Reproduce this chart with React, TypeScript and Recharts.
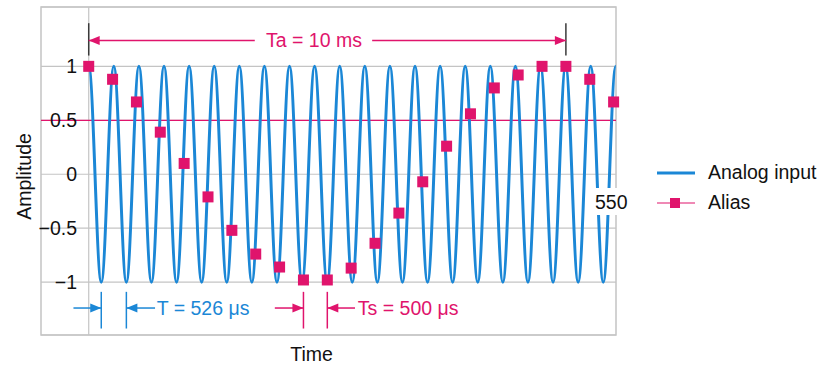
import React from 'react';
import { LineChart, Line, XAxis, YAxis, CartesianGrid, ReferenceLine, ReferenceArea } from 'recharts';

const BLUE = '#1B87D6';
const MAGENTA = '#E0146C';
const GRID = '#C4C4C4';
const DARK = '#3A3A3A';
const FONT = '"Liberation Sans", Arial, Helvetica, sans-serif';
const FS = 19.5;

// Analog input: peaks and troughs (time in ms)
const analogTimes = [
  0, 0.263, 0.526, 0.789, 1.052, 1.315, 1.578, 1.841, 2.104, 2.367, 2.63,
  2.893, 3.156, 3.419, 3.682, 3.945, 4.208, 4.471, 4.734, 4.997, 5.26,
  5.523, 5.786, 6.049, 6.312, 6.575, 6.838, 7.101, 7.364, 7.627, 7.89,
  8.153, 8.416, 8.679, 8.942, 9.205, 9.468, 9.731, 9.994, 10.257, 10.52,
  10.783, 11.046,
];
const analogValues = [
  1, -1, 1, -1, 1, -1, 1, -1, 1, -1, 1,
  -1, 1, -1, 1, -1, 1, -1, 1, -1, 1,
  -1, 1, -1, 1, -1, 1, -1, 1, -1, 1,
  -1, 1, -1, 1, -1, 1, -1, 1, -1, 1,
  -1, 1,
];

// Alias samples (every 500 µs)
const aliasTimes = [
  0, 0.5, 1, 1.5, 2, 2.5, 3, 3.5, 4, 4.5, 5, 5.5, 6, 6.5, 7, 7.5, 8, 8.5, 9, 9.5, 10, 10.5, 11,
];
const aliasValues = [
  1.0, 0.88, 0.67, 0.39, 0.1, -0.21, -0.52, -0.74, -0.86, -0.98, -0.98, -0.87,
  -0.64, -0.36, -0.07, 0.26, 0.56, 0.8, 0.92, 1.0, 1.0, 0.88, 0.67,
];

const yTicks = [-1, -0.5, 0, 0.5, 1];
const X_DOMAIN: [number, number] = [-1, 11.05];
const Y_DOMAIN: [number, number] = [-1.49, 1.55];

const analogData = analogTimes.map((t, i) => ({ t, v: analogValues[i] }));
const aliasData = aliasTimes.map((t, i) => ({ t, v: aliasValues[i] }));

// Curve through extrema with horizontal tangents (sinusoid-like shape)
const K = 1 - 2 / Math.PI;
function sinusoidCurve(context: any) {
  let px = 0;
  let py = 0;
  let n = 0;
  return {
    areaStart() {},
    areaEnd() {},
    lineStart() {
      n = 0;
    },
    lineEnd() {},
    point(x: number, y: number) {
      x = +x;
      y = +y;
      if (n === 0) context.moveTo(x, y);
      else {
        const d = (x - px) * K;
        context.bezierCurveTo(px + d, py, x - d, y, x, y);
      }
      px = x;
      py = y;
      n++;
    },
  };
}

type ArrowOpts = { color: string; start?: boolean; end?: boolean; width?: number };
const arrowShape = ({ color, start, end, width = 1.5 }: ArrowOpts) => (p: any) => {
  const { x1, y1, x2, y2 } = p;
  const L = 11;
  const W = 4.5;
  const dx = x2 - x1;
  const dy = y2 - y1;
  const len = Math.hypot(dx, dy) || 1;
  const ux = dx / len;
  const uy = dy / len;
  const head = (tx: number, ty: number, ax: number, ay: number) =>
    `M${tx},${ty} L${tx - ax * L - ay * W},${ty - ay * L + ax * W} L${tx - ax * L + ay * W},${ty - ay * L - ax * W} Z`;
  return (
    <g>
      <line x1={x1} y1={y1} x2={x2} y2={y2} stroke={color} strokeWidth={width} />
      {end ? <path d={head(x2, y2, ux, uy)} fill={color} /> : null}
      {start ? <path d={head(x1, y1, -ux, -uy)} fill={color} /> : null}
    </g>
  );
};

const textShape = (label: string, color: string, anchor: 'start' | 'middle' | 'end') => (p: any) => (
  <text x={p.x1} y={p.y1} dy="0.36em" textAnchor={anchor} fill={color} fontSize={FS} fontFamily={FONT}>
    {label}
  </text>
);

const fmt = (v: number) => (v < 0 ? '\u2212' + Math.abs(v) : String(v));

const YTick = (props: any) => {
  const { y, payload } = props;
  return (
    <text x={77} y={y} dy="0.36em" textAnchor="end" fill="#111" fontSize={FS} fontFamily={FONT}>
      {fmt(payload.value)}
    </text>
  );
};

const Square = (props: any) => {
  const { cx, cy, index } = props;
  if (cx == null || cy == null) return <g key={index} />;
  return <rect key={index} x={cx - 5.5} y={cy - 5.5} width={11} height={11} fill={MAGENTA} />;
};

export default function App() {
  const TA_Y = 1.24;
  const TB_Y = -1.24;
  return (
    <div style={{ position: 'absolute', left: 0, top: 0, width: 824, height: 365, background: '#fff', fontFamily: FONT }}>
      <LineChart width={824} height={365} margin={{ top: 7, right: 208, bottom: 30, left: 41 }} style={{ position: 'absolute', left: 0, top: 0 }}>
        <XAxis type="number" dataKey="t" domain={X_DOMAIN} hide />
        <YAxis
          type="number"
          domain={Y_DOMAIN}
          ticks={yTicks}
          mirror
          axisLine={false}
          tickLine={false}
          tick={<YTick />}
        />
        <CartesianGrid vertical={false} stroke={GRID} strokeWidth={1.2} />
        <ReferenceArea x1={X_DOMAIN[0]} x2={X_DOMAIN[1]} y1={Y_DOMAIN[0]} y2={Y_DOMAIN[1]} fill="none" fillOpacity={0} stroke={GRID} strokeWidth={1.5} />
        <ReferenceLine x={0} stroke={GRID} strokeWidth={1.2} />
        <ReferenceLine y={0.5} stroke={MAGENTA} strokeWidth={1.3} />

        {/* Ta annotation */}
        <ReferenceLine segment={[{ x: 0, y: 1.1 }, { x: 0, y: 1.4 }]} stroke={DARK} strokeWidth={1.5} />
        <ReferenceLine segment={[{ x: 10, y: 1.1 }, { x: 10, y: 1.4 }]} stroke={DARK} strokeWidth={1.5} />
        <ReferenceLine segment={[{ x: 0, y: TA_Y }, { x: 3.48, y: TA_Y }]} shape={arrowShape({ color: MAGENTA, start: true })} />
        <ReferenceLine segment={[{ x: 5.94, y: TA_Y }, { x: 10, y: TA_Y }]} shape={arrowShape({ color: MAGENTA, end: true })} />
        <ReferenceLine segment={[{ x: 4.72, y: TA_Y }, { x: 4.72, y: TA_Y }]} shape={textShape('Ta = 10 ms', MAGENTA, 'middle')} />

        {/* T annotation */}
        <ReferenceLine segment={[{ x: 0.263, y: -1.09 }, { x: 0.263, y: -1.43 }]} stroke={BLUE} strokeWidth={1.5} />
        <ReferenceLine segment={[{ x: 0.789, y: -1.09 }, { x: 0.789, y: -1.43 }]} stroke={BLUE} strokeWidth={1.5} />
        <ReferenceLine segment={[{ x: -0.32, y: TB_Y }, { x: 0.263, y: TB_Y }]} shape={arrowShape({ color: BLUE, end: true })} />
        <ReferenceLine segment={[{ x: 0.789, y: TB_Y }, { x: 1.39, y: TB_Y }]} shape={arrowShape({ color: BLUE, start: true })} />
        <ReferenceLine segment={[{ x: 1.425, y: TB_Y }, { x: 1.425, y: TB_Y }]} shape={textShape('T = 526 \u03bcs', BLUE, 'start')} />

        {/* Ts annotation */}
        <ReferenceLine segment={[{ x: 4.5, y: -1.09 }, { x: 4.5, y: -1.43 }]} stroke={MAGENTA} strokeWidth={1.5} />
        <ReferenceLine segment={[{ x: 5.0, y: -1.09 }, { x: 5.0, y: -1.43 }]} stroke={MAGENTA} strokeWidth={1.5} />
        <ReferenceLine segment={[{ x: 3.9, y: TB_Y }, { x: 4.5, y: TB_Y }]} shape={arrowShape({ color: MAGENTA, end: true })} />
        <ReferenceLine segment={[{ x: 5.0, y: TB_Y }, { x: 5.58, y: TB_Y }]} shape={arrowShape({ color: MAGENTA, start: true })} />
        <ReferenceLine segment={[{ x: 5.64, y: TB_Y }, { x: 5.64, y: TB_Y }]} shape={textShape('Ts = 500 \u03bcs', MAGENTA, 'start')} />

        <Line
          data={analogData}
          dataKey="v"
          type={sinusoidCurve as any}
          stroke={BLUE}
          strokeWidth={3}
          dot={false}
          activeDot={false}
          isAnimationActive={false}
          name="Analog input"
        />
        <Line
          data={aliasData}
          dataKey="v"
          type="linear"
          stroke="none"
          strokeWidth={0}
          dot={<Square />}
          activeDot={false}
          isAnimationActive={false}
          name="Alias"
        />
      </LineChart>

      <svg width={824} height={365} style={{ position: 'absolute', left: 0, top: 0, pointerEvents: 'none' }}>
        <text transform="translate(31,176.5) rotate(-90)" textAnchor="middle" fontSize={FS} fontFamily={FONT} fill="#111">
          Amplitude
        </text>
        <text x={311.5} y={361} textAnchor="middle" fontSize={FS} fontFamily={FONT} fill="#111">
          Time
        </text>
        <rect x={593} y={188} width={36} height={27} fill="#fff" />
        <text x={595} y={209} fontSize={FS} fontFamily={FONT} fill="#111">
          550
        </text>
        {/* legend */}
        <line x1={657} y1={173} x2={695} y2={173} stroke={BLUE} strokeWidth={3} />
        <text x={708} y={178.5} fontSize={FS} fontFamily={FONT} fill="#111">
          Analog input
        </text>
        <line x1={657} y1={203} x2={695} y2={203} stroke={MAGENTA} strokeWidth={1.2} />
        <rect x={670} y={198} width={10} height={10} fill={MAGENTA} />
        <text x={708} y={209} fontSize={FS} fontFamily={FONT} fill="#111">
          Alias
        </text>
      </svg>
    </div>
  );
}
